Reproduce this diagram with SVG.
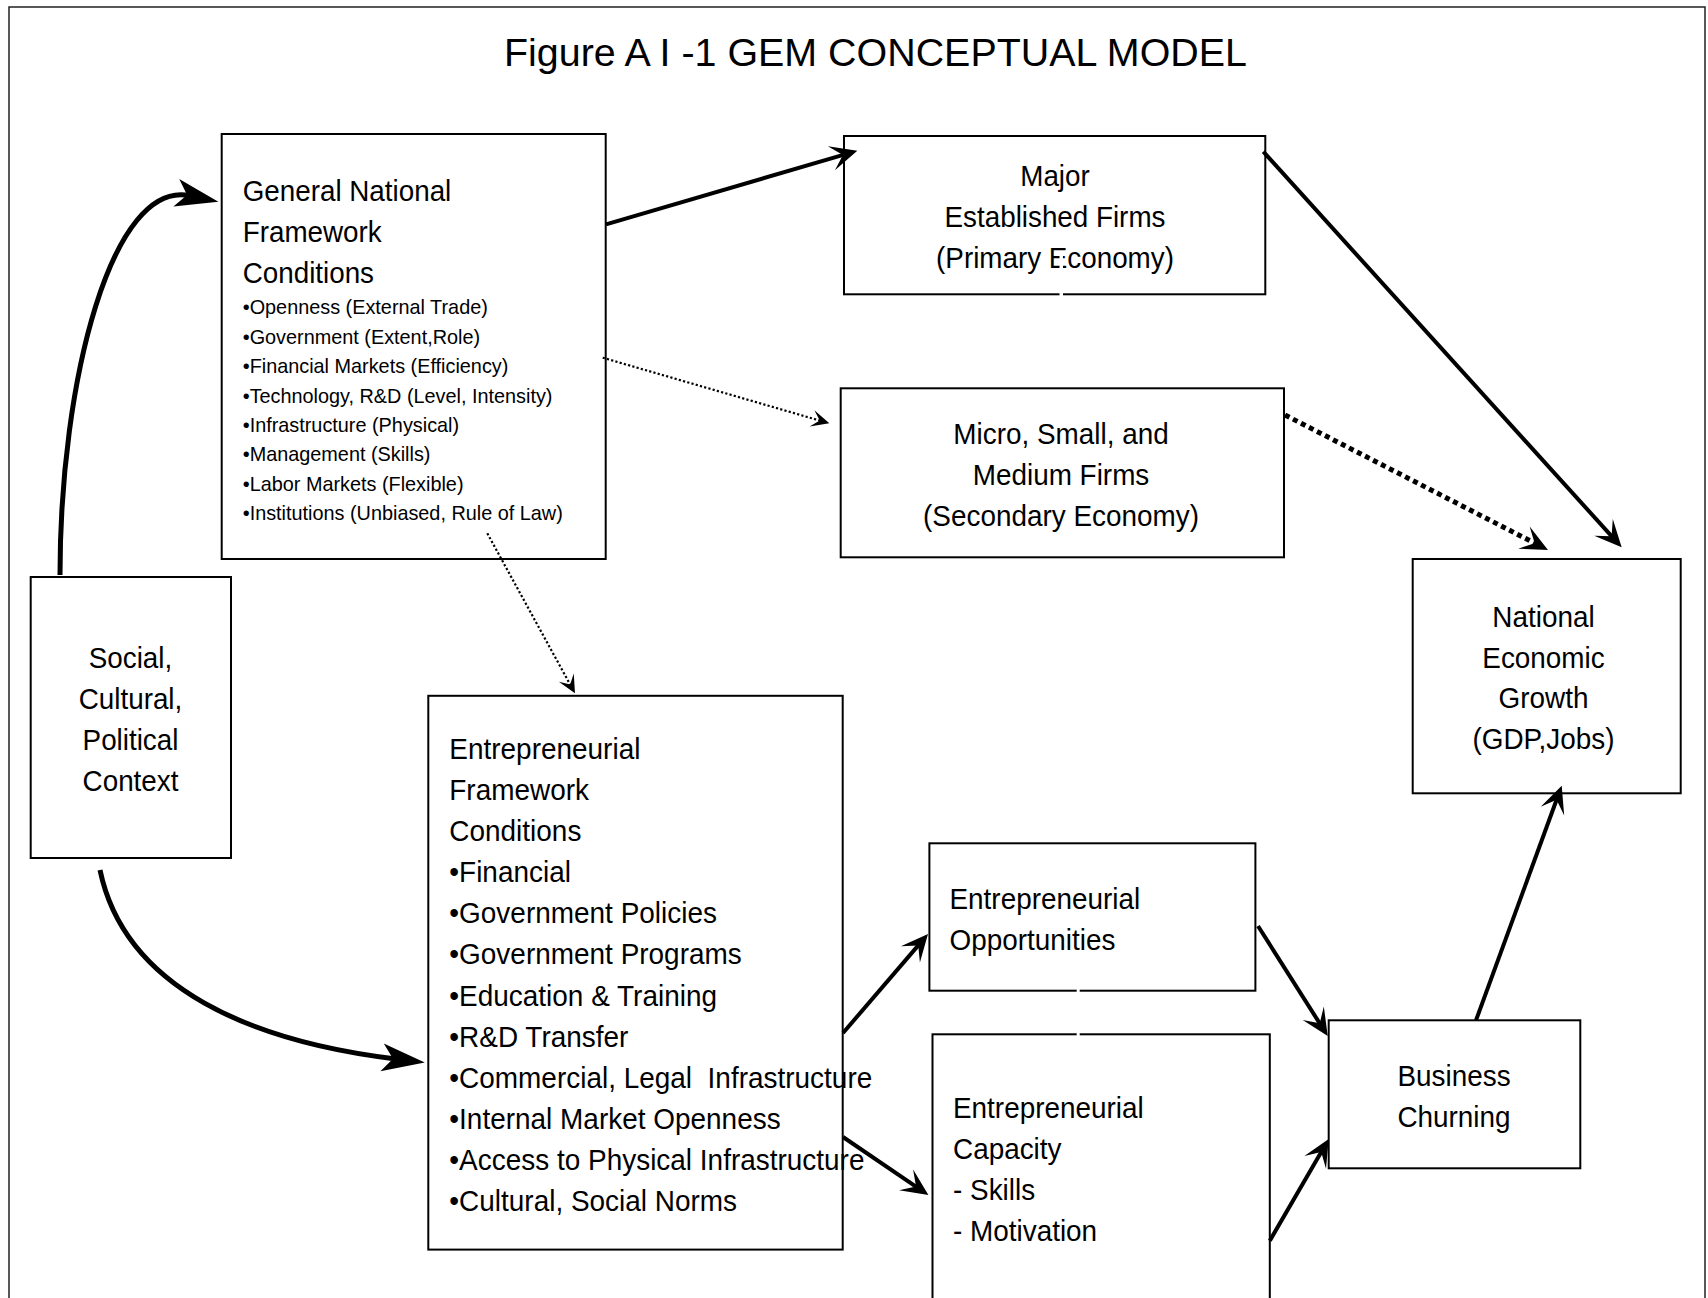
<svg xmlns="http://www.w3.org/2000/svg" width="1708" height="1298" viewBox="0 0 1708 1298">
<style>
.box{fill:#fff;stroke:#000;stroke-width:2}
.t{font-family:"Liberation Sans",Arial,Helvetica,sans-serif;font-size:30px;fill:#000}
.s{font-size:21px}
.ttl{font-size:39.5px}
.ln{fill:none;stroke:#000;stroke-width:4}
.cv{stroke-width:5}
.dot{stroke-width:2.2;stroke-dasharray:2.2 2.2}
.dotb{stroke-width:5;stroke-dasharray:5 4}
.gap{fill:#fff;stroke:none}
</style>
<defs>
<marker id="ah" markerUnits="userSpaceOnUse" orient="auto" overflow="visible" refX="3" refY="0" markerWidth="1" markerHeight="1"><path d="M15,0 L-12,-12.5 L0,0 L-12,12.5 Z" fill="#000"/></marker>
<marker id="ahc" markerUnits="userSpaceOnUse" orient="auto" overflow="visible" refX="3" refY="0" markerWidth="1" markerHeight="1"><path d="M32,0 L-11,-14 L0,0 L-11,14 Z" fill="#000"/></marker>
<marker id="ahs" markerUnits="userSpaceOnUse" orient="auto" overflow="visible" refX="3" refY="0" markerWidth="1" markerHeight="1"><path d="M10,0 L-8,-8.5 L0,0 L-8,8.5 Z" fill="#000"/></marker>
</defs>
<rect width="1708" height="1298" fill="#fff"/>
<path d="M9,1298 V7 H1705 V1298" fill="none" stroke="#222" stroke-width="1.5"/>
<text class="t ttl" x="504" y="65.7" textLength="743" lengthAdjust="spacingAndGlyphs">Figure A I -1 GEM CONCEPTUAL MODEL</text>

<g id="gnfc">
<rect class="box" x="221.7" y="134" width="384" height="425"/>
<text class="t" transform="translate(242.7 0) scale(0.927 1)"><tspan x="0" y="201">General National</tspan><tspan x="0" y="242">Framework</tspan><tspan x="0" y="283">Conditions</tspan></text>
<text class="t s" transform="translate(242.7 0) scale(0.945 1)"><tspan x="0" y="314.5">•Openness (External Trade)</tspan><tspan x="0" y="343.9">•Government (Extent,Role)</tspan><tspan x="0" y="373.3">•Financial Markets (Efficiency)</tspan><tspan x="0" y="402.7">•Technology, R&amp;D (Level, Intensity)</tspan><tspan x="0" y="432.1">•Infrastructure (Physical)</tspan><tspan x="0" y="461.5">•Management (Skills)</tspan><tspan x="0" y="490.9">•Labor Markets (Flexible)</tspan><tspan x="0" y="520.3">•Institutions (Unbiased, Rule of Law)</tspan></text>
</g>

<g id="major">
<rect class="box" x="844" y="136" width="421.3" height="158.3"/>
<text class="t" text-anchor="middle" transform="translate(1055 0) scale(0.927 1)"><tspan x="0" y="186.5">Major</tspan><tspan x="0" y="227.5">Established Firms</tspan><tspan x="0" y="268.5">(Primary Economy)</tspan></text>
</g>

<g id="micro">
<rect class="box" x="840.7" y="388.3" width="443.3" height="169"/>
<text class="t" text-anchor="middle" transform="translate(1061 0) scale(0.93 1)"><tspan x="0" y="444.5">Micro, Small, and</tspan><tspan x="0" y="485.5">Medium Firms</tspan><tspan x="0" y="526.5">(Secondary Economy)</tspan></text>
</g>

<g id="social">
<rect class="box" x="30.7" y="577" width="200.3" height="281"/>
<text class="t" text-anchor="middle" transform="translate(130.5 0) scale(0.927 1)"><tspan x="0" y="668.5">Social,</tspan><tspan x="0" y="709.5">Cultural,</tspan><tspan x="0" y="750.5">Political</tspan><tspan x="0" y="791.5">Context</tspan></text>
</g>

<g id="neg">
<rect class="box" x="1412.7" y="559" width="268" height="234.3"/>
<text class="t" text-anchor="middle" transform="translate(1543.5 0) scale(0.93 1)"><tspan x="0" y="627">National</tspan><tspan x="0" y="668">Economic</tspan><tspan x="0" y="708.5">Growth</tspan><tspan x="0" y="749.5">(GDP,Jobs)</tspan></text>
</g>

<g id="efc">
<rect class="box" x="428.3" y="695.8" width="414.4" height="553.8"/>
<text class="t" transform="translate(449.3 0) scale(0.932 1)"><tspan x="0" y="759">Entrepreneurial</tspan><tspan x="0" y="800.1">Framework</tspan><tspan x="0" y="841.2">Conditions</tspan><tspan x="0" y="882.3">•Financial</tspan><tspan x="0" y="923.4">•Government Policies</tspan><tspan x="0" y="964.5">•Government Programs</tspan><tspan x="0" y="1005.6">•Education &amp; Training</tspan><tspan x="0" y="1046.7">•R&amp;D Transfer</tspan><tspan x="0" y="1087.8" xml:space="preserve">•Commercial, Legal  Infrastructure</tspan><tspan x="0" y="1128.9">•Internal Market Openness</tspan><tspan x="0" y="1170">•Access to Physical Infrastructure</tspan><tspan x="0" y="1211.1">•Cultural, Social Norms</tspan></text>
</g>

<g id="opportunities">
<rect class="box" x="929.4" y="843.3" width="326" height="147.4"/>
<text class="t" transform="translate(949.5 0) scale(0.93 1)"><tspan x="0" y="909.5">Entrepreneurial</tspan><tspan x="0" y="950">Opportunities</tspan></text>
</g>

<g id="capacity">
<rect class="box" x="932.5" y="1034.3" width="337.3" height="300"/>
<text class="t" transform="translate(953 0) scale(0.93 1)"><tspan x="0" y="1118.5">Entrepreneurial</tspan><tspan x="0" y="1159.5">Capacity</tspan><tspan x="0" y="1200.5">- Skills</tspan><tspan x="0" y="1241.5">- Motivation</tspan></text>
</g>

<g id="churning">
<rect class="box" x="1328.7" y="1020.3" width="251.6" height="148"/>
<text class="t" text-anchor="middle" transform="translate(1454 0) scale(0.93 1)"><tspan x="0" y="1086">Business</tspan><tspan x="0" y="1127">Churning</tspan></text>
</g>

<g id="connectors">
<path class="ln cv" d="M60,575 C60,380 112,179 190,195.7" marker-end="url(#ahc)"/>
<path class="ln cv" d="M100,870 C125,990 255,1042 396,1059" marker-end="url(#ahc)"/>
<path class="ln" d="M606,224.3 L845.8,154.1" marker-end="url(#ah)"/>
<path class="ln dot" d="M602.7,357.7 L822.6,421.4" marker-end="url(#ahs)"/>
<path class="ln dot" d="M487.3,533.3 L571.6,687.2" marker-end="url(#ahs)"/>
<path class="ln" d="M1263.3,151.7 L1613.6,538.4" marker-end="url(#ah)"/>
<path class="ln dotb" d="M1285,415 L1537.3,544.5" marker-end="url(#ah)"/>
<path class="ln" d="M843,1033 L920.2,943.1" marker-end="url(#ah)"/>
<path class="ln" d="M843,1137 L918.5,1188.3" marker-end="url(#ah)"/>
<path class="ln" d="M1258,926 L1321.3,1025.9" marker-end="url(#ah)"/>
<path class="ln" d="M1269.8,1240.7 L1322.7,1149.4" marker-end="url(#ah)"/>
<path class="ln" d="M1476,1020.3 L1557.6,797" marker-end="url(#ah)"/>
</g>

<g id="gaps">
<rect class="gap" x="1059.5" y="252" width="3.5" height="45"/>
<rect class="gap" x="1076.7" y="989" width="3" height="47"/>
</g>
</svg>
